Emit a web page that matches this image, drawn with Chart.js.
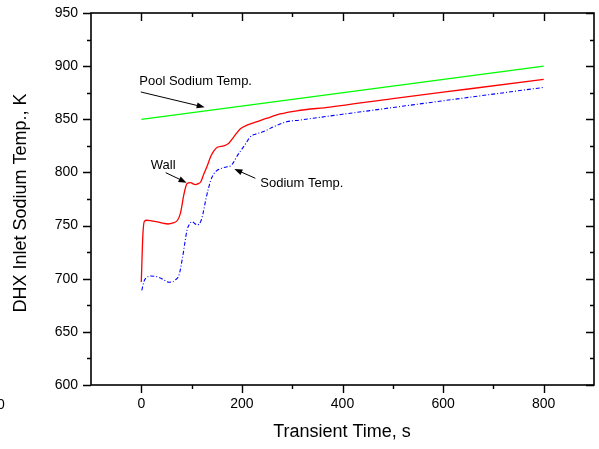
<!DOCTYPE html>
<html>
<head>
<meta charset="utf-8">
<script src="https://cdn.jsdelivr.net/npm/chart.js@4.4.1/dist/chart.umd.min.js"></script>
<style>
  html, body { margin: 0; padding: 0; background: #fff; }
  canvas { display: block; }
</style>
</head>
<body>
<canvas id="dhx-chart" width="599" height="449"></canvas>
<script>
// tick values
const xTicks = [0, 200, 400, 600, 800];
const xMinor = [100, 300, 500, 700];
const yTicks = [600, 650, 700, 750, 800, 850, 900, 950];
const yMinor = [625, 675, 725, 775, 825, 875, 925];

// Pool sodium temperature
const poolTime = [0, 800];
const poolTemp = [850, 900];

// Wall temperature
const wallTime = [0, 3, 6, 11, 20, 32, 45, 53, 63, 72, 78, 85, 91, 98, 104, 108, 113, 118, 124, 131,
  138, 144, 151, 164, 174, 184, 197, 210, 230, 250, 276, 309, 375, 500, 650, 800];
const wallTemp = [697, 740, 754, 755, 754.5, 753.5, 752, 751.5, 752.5, 755, 762, 780, 789.5, 790.5, 789, 788.6, 789.5, 791, 798, 806,
  815, 820, 823.7, 825, 827.5, 833.5, 841, 844.5, 847.7, 851, 855, 858, 861.5, 869.5, 878.5, 887.5];

// Sodium temperature
const naTime = [1, 5, 9, 19, 30, 39, 48, 55, 62, 68, 75, 82, 87, 91, 96, 101, 106, 111, 118, 123,
  128, 133, 138, 144, 151, 160, 171, 177, 184, 190, 197, 204, 210, 217, 227, 237, 250, 263, 276, 289,
  316, 342, 400, 600, 800];
const naTemp = [689, 697, 700.5, 702.5, 702, 700.5, 698, 696.7, 697, 699, 703.5, 720, 735, 746, 751.5, 753.7, 752, 750.6, 753.7, 762,
  774, 784, 792.6, 798.5, 802, 804, 805.4, 806, 810, 815, 820, 824.5, 829, 833.6, 836, 837.4, 840, 843, 845.5, 847.7,
  849.3, 851, 854.7, 867.4, 880];

// annotations (data units)
const notes = [
  { text: "Pool Sodium Temp.", x: 108, y: 885.4, align: "center", from: [-1, 875.7], to: [126, 861.3] },
  { text: "Wall", x: 43.6, y: 807, align: "center", from: [48.5, 799.8], to: [90, 790.4] },
  { text: "Sodium Temp.", x: 236.6, y: 790, align: "left", from: [226.7, 794.5], to: [185, 803.2] },
];

const FONT = "'Liberation Sans', Arial, sans-serif";

function pts(xs, ys) {
  return xs.map((x, i) => ({ x: x, y: ys[i] }));
}

function arrow(ctx, x1, y1, x2, y2) {
  const a = Math.atan2(y2 - y1, x2 - x1);
  const len = 8, w = 3;
  ctx.beginPath();
  ctx.moveTo(x1, y1);
  ctx.lineTo(x2 - Math.cos(a) * len * 0.8, y2 - Math.sin(a) * len * 0.8);
  ctx.stroke();
  ctx.beginPath();
  ctx.moveTo(x2, y2);
  ctx.lineTo(x2 - Math.cos(a) * len - Math.sin(a) * w, y2 - Math.sin(a) * len + Math.cos(a) * w);
  ctx.lineTo(x2 - Math.cos(a) * len + Math.sin(a) * w, y2 - Math.sin(a) * len - Math.cos(a) * w);
  ctx.closePath();
  ctx.fill();
}

function noPad(s) {
  s.paddingTop = 0;
  s.paddingBottom = 0;
  s.paddingLeft = 0;
  s.paddingRight = 0;
}

/*--------------------------------------------------------------
| Frame, ticks, titles and notes
--------------------------------------------------------------*/
const framePlugin = {
  id: "frame",
  afterDraw(chart) {
    const ctx = chart.ctx;
    const { left, right, top, bottom } = chart.chartArea;
    const sx = chart.scales.x, sy = chart.scales.y;
    ctx.save();
    ctx.strokeStyle = "#000";
    ctx.fillStyle = "#000";
    ctx.lineWidth = 1.6;
    ctx.strokeRect(left, top, right - left, bottom - top);

    ctx.lineWidth = 1.4;
    ctx.beginPath();
    const tickX = (v, len) => {
      const p = Math.round(sx.getPixelForValue(v)) + 0.5;
      ctx.moveTo(p, bottom); ctx.lineTo(p, bottom + len);
      ctx.moveTo(p, top); ctx.lineTo(p, top + len);
    };
    const tickY = (v, len) => {
      const p = Math.round(sy.getPixelForValue(v)) + 0.5;
      ctx.moveTo(left, p); ctx.lineTo(left - len, p);
      ctx.moveTo(right, p); ctx.lineTo(right - len, p);
    };
    xTicks.forEach(v => tickX(v, 8));
    xMinor.forEach(v => tickX(v, 4));
    yTicks.forEach(v => tickY(v, 8));
    yMinor.forEach(v => tickY(v, 4));
    ctx.stroke();

    // axis titles
    ctx.font = "18px " + FONT;
    ctx.textAlign = "center";
    ctx.textBaseline = "middle";
    ctx.fillText("Transient Time, s", 342, 432);
    ctx.save();
    ctx.translate(21, 203);
    ctx.rotate(-Math.PI / 2);
    ctx.fillText("DHX Inlet Sodium Temp., K", 0, 0);
    ctx.restore();

    // stray label at left edge
    ctx.font = "14px " + FONT;
    ctx.fillText("0", 1, 405);

    // notes with arrows
    ctx.font = "13px " + FONT;
    ctx.lineWidth = 1;
    notes.forEach(n => {
      ctx.textAlign = n.align;
      ctx.fillText(n.text, sx.getPixelForValue(n.x), sy.getPixelForValue(n.y));
      arrow(ctx,
        sx.getPixelForValue(n.from[0]), sy.getPixelForValue(n.from[1]),
        sx.getPixelForValue(n.to[0]), sy.getPixelForValue(n.to[1]));
    });
    ctx.restore();
  },
};

function dhxChart() {
  const ctx = document.getElementById("dhx-chart").getContext("2d");

  const config = {
    type: "line",
    data: {
      datasets: [
        {
          label: "Pool Sodium Temp.",
          data: pts(poolTime, poolTemp),
          borderColor: "#00ff00",
          borderWidth: 1.3,
          pointRadius: 0,
        },
        {
          label: "Wall",
          data: pts(wallTime, wallTemp),
          borderColor: "#ff0000",
          borderWidth: 1.3,
          pointRadius: 0,
          cubicInterpolationMode: "monotone",
        },
        {
          label: "Sodium Temp.",
          data: pts(naTime, naTemp),
          borderColor: "#0000ff",
          borderWidth: 1.1,
          borderDash: [4, 2, 1, 2],
          pointRadius: 0,
          cubicInterpolationMode: "monotone",
        },
      ],
    },
    options: {
      responsive: false,
      animation: false,
      layout: { autoPadding: false, padding: { left: 0, top: 13, right: 5, bottom: 0 } },
      plugins: {
        legend: { display: false },
        tooltip: { enabled: false },
      },
      scales: {
        x: {
          type: "linear",
          min: -100,
          max: 900,
          afterBuildTicks: s => { s.ticks = xTicks.map(v => ({ value: v })); },
          afterFit: s => { s.height = 64; noPad(s); },
          grid: { display: false, drawTicks: false },
          border: { display: false },
          ticks: { color: "#000", font: { family: FONT, size: 14 }, padding: 11, maxRotation: 0 },
        },
        y: {
          type: "linear",
          min: 600,
          max: 950,
          afterBuildTicks: s => { s.ticks = yTicks.map(v => ({ value: v })); },
          afterFit: s => { s.width = 91; noPad(s); },
          grid: { display: false, drawTicks: false },
          border: { display: false },
          ticks: { color: "#000", font: { family: FONT, size: 14 }, padding: 13 },
        },
      },
    },
    plugins: [framePlugin],
  };

  new Chart(ctx, config);
}

dhxChart();
</script>
</body>
</html>
